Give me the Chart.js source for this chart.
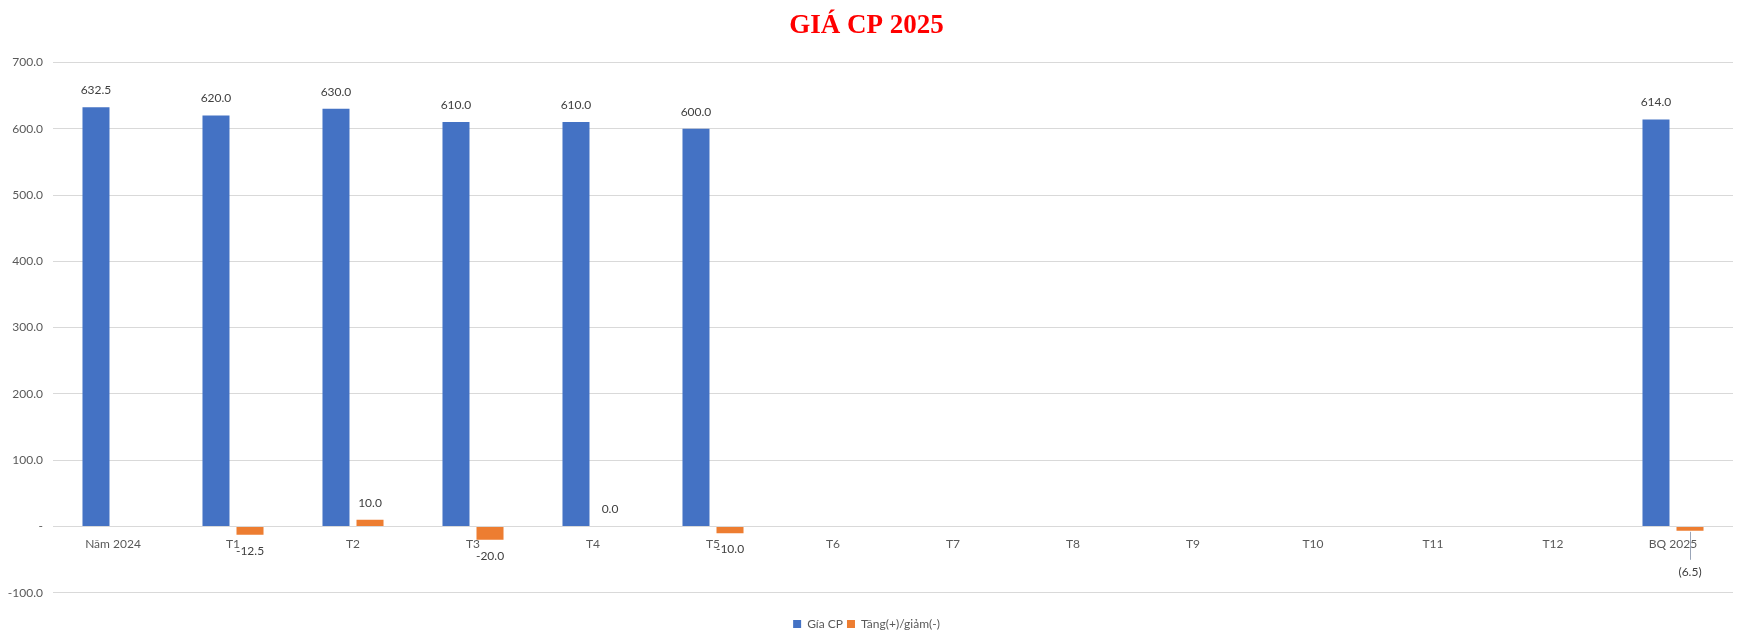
<!DOCTYPE html>
<html>
<head>
<meta charset="utf-8">
<script src="https://cdn.jsdelivr.net/npm/chart.js@4.4.0/dist/chart.umd.min.js"></script>
<style>
  html, body { margin: 0; padding: 0; background: #fff; }
  #wrap { width: 1749px; height: 641px; }
</style>
</head>
<body>
<div id="wrap"><canvas id="chart"></canvas></div>
<script>
const categories = ['Năm 2024', 'T1', 'T2', 'T3', 'T4', 'T5', 'T6', 'T7', 'T8', 'T9', 'T10', 'T11', 'T12', 'BQ 2025'];
const giaCP = [632.5, 620.0, 630.0, 610.0, 610.0, 600.0, null, null, null, null, null, null, null, 614.0];
const tangGiam = [null, -12.5, 10.0, -20.0, 0.0, -10.0, null, null, null, null, null, null, null, -6.5];
const yMin = -100, yMax = 700, yStep = 100;

const textFont = 'Lato, "Open Sans", sans-serif';

// value labels drawn on top of the bars (no datalabels plugin available)
const barLabels = {
  id: 'barLabels',
  afterDatasetsDraw(chart) {
    const ctx = chart.ctx;
    ctx.save();
    ctx.font = '12px ' + textFont;
    ctx.fillStyle = '#404040';
    ctx.textAlign = 'center';
    ctx.textBaseline = 'middle';
    chart.data.datasets.forEach((ds, i) => {
      const meta = chart.getDatasetMeta(i);
      meta.data.forEach((bar, j) => {
        const v = ds.data[j];
        if (v === null || v === undefined) return;
        if (v >= 0) {
          ctx.fillText(v.toFixed(1), bar.x, bar.y - 17);
        } else if (categories[j] === 'BQ 2025') {
          // average column uses bracket format with a leader line
          ctx.strokeStyle = '#9aa5b8';
          ctx.lineWidth = 1;
          ctx.beginPath();
          ctx.moveTo(bar.x + 0.5, bar.y + 1);
          ctx.lineTo(bar.x + 0.5, bar.y + 29);
          ctx.stroke();
          ctx.fillText('(' + Math.abs(v).toFixed(1) + ')', bar.x, bar.y + 41);
        } else {
          ctx.fillText(v.toFixed(1), bar.x, bar.y + 16);
        }
      });
    });
    ctx.restore();
  }
};

new Chart(document.getElementById('chart'), {
  type: 'bar',
  data: {
    labels: categories,
    datasets: [
      {
        label: 'Gía CP',
        data: giaCP,
        backgroundColor: '#4472C4',
        categoryPercentage: 0.567,
        barPercentage: 0.794
      },
      {
        label: 'Tăng(+)/giảm(-)',
        data: tangGiam,
        backgroundColor: '#ED7D31',
        categoryPercentage: 0.567,
        barPercentage: 0.794
      }
    ]
  },
  options: {
    responsive: true,
    maintainAspectRatio: false,
    animation: false,
    layout: { padding: { left: 0, right: 16, top: 0, bottom: 1 } },
    plugins: {
      tooltip: { enabled: false },
      title: {
        display: true,
        text: 'GIÁ CP 2025',
        color: '#FF0000',
        font: { family: '"Liberation Serif", "Times New Roman", serif', size: 27, weight: 'bold', lineHeight: 1.2 },
        padding: { top: 10, bottom: 20 }
      },
      legend: {
        position: 'bottom',
        // empty title only used as spacer between plot and legend items
        title: { display: true, text: '', font: { size: 1 }, padding: { top: 0, bottom: 20 } },
        labels: {
          color: '#595959',
          font: { family: textFont, size: 12 },
          boxWidth: 8,
          boxHeight: 8,
          padding: 4
        }
      }
    },
    scales: {
      x: {
        position: { y: 0 },
        grid: { display: false, drawTicks: false },
        border: { display: false },
        ticks: {
          color: '#595959',
          font: { family: textFont, size: 12 },
          padding: 10,
          maxRotation: 0,
          autoSkip: false
        }
      },
      y: {
        min: yMin,
        max: yMax,
        grid: { color: '#d9d9d9', drawTicks: false },
        border: { display: false },
        ticks: {
          stepSize: yStep,
          color: '#595959',
          font: { family: textFont, size: 12 },
          padding: 10,
          callback: (v) => (v === 0 ? '-' : v.toFixed(1))
        },
        afterFit(scale) { scale.width = 53; }
      }
    }
  },
  plugins: [barLabels]
});
</script>
</body>
</html>
